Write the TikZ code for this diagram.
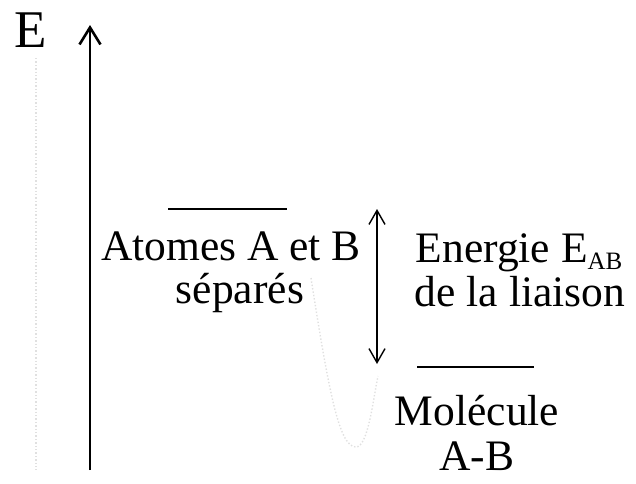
\documentclass[tikz,border=0pt]{standalone}
\usepackage{fontspec}
\setmainfont{Liberation Serif}
\usetikzlibrary{arrows.meta}
\begin{document}
\begin{tikzpicture}[x=1pt,y=-1pt,
  lbl/.style={inner sep=0pt,anchor=base,font=\fontsize{43.5}{44}\selectfont},
  level/.style={line width=2.6pt},
  faint/.style={draw=black!12,dotted,line width=1.4pt},
  axis/.style={line width=2.8pt,-{Straight Barb[length=17pt,width=21pt,line width=2.6pt]}},
  dbl/.style={line width=1.4pt,{Straight Barb[length=14pt,width=16pt,line width=1.4pt]}-{Straight Barb[length=14pt,width=16pt,line width=1.4pt]}}]
\useasboundingbox (0,0) rectangle (636,483);
% faint dotted traces
\coordinate (v1) at (36,58);
\coordinate (v2) at (36,470);
\draw[faint] (v1) -- (v2);
\coordinate (c1) at (311,278);
\coordinate (c2) at (356,447);
\coordinate (c3) at (378,376);
\draw[faint] (c1) .. controls (330,400) and (340,447) .. (c2) .. controls (368,447) and (373,400) .. (c3);
% axis
\node[inner sep=0pt,anchor=base,font=\fontsize{53}{54}\selectfont] (E) at (31,47) {E};
\coordinate (a0) at (90,470);
\coordinate (a1) at (90,25);
\draw[axis] (a0) -- (a1);
% levels
\coordinate (l1a) at (168,209);
\coordinate (l1b) at (287,209);
\draw[level] (l1a) -- (l1b);
\coordinate (l2a) at (417,367);
\coordinate (l2b) at (534,367);
\draw[level] (l2a) -- (l2b);
% double arrow
\coordinate (d1) at (377,209);
\coordinate (d2) at (377,364);
\draw[dbl] (d1) -- (d2);
% labels
\node[lbl] (at1) at (231,260) {Atomes A et B};
\node[lbl] (at2) at (240,303) {séparés};
\node[lbl] (en1) at (519,262) {Energie E\raisebox{-7pt}{\fontsize{25}{25}\selectfont AB}};
\node[lbl] (en2) at (520,306) {de la liaison};
\node[lbl] (mo1) at (477,425) {Molécule};
\node[lbl] (mo2) at (477,470) {A-B};
\end{tikzpicture}
\end{document}
